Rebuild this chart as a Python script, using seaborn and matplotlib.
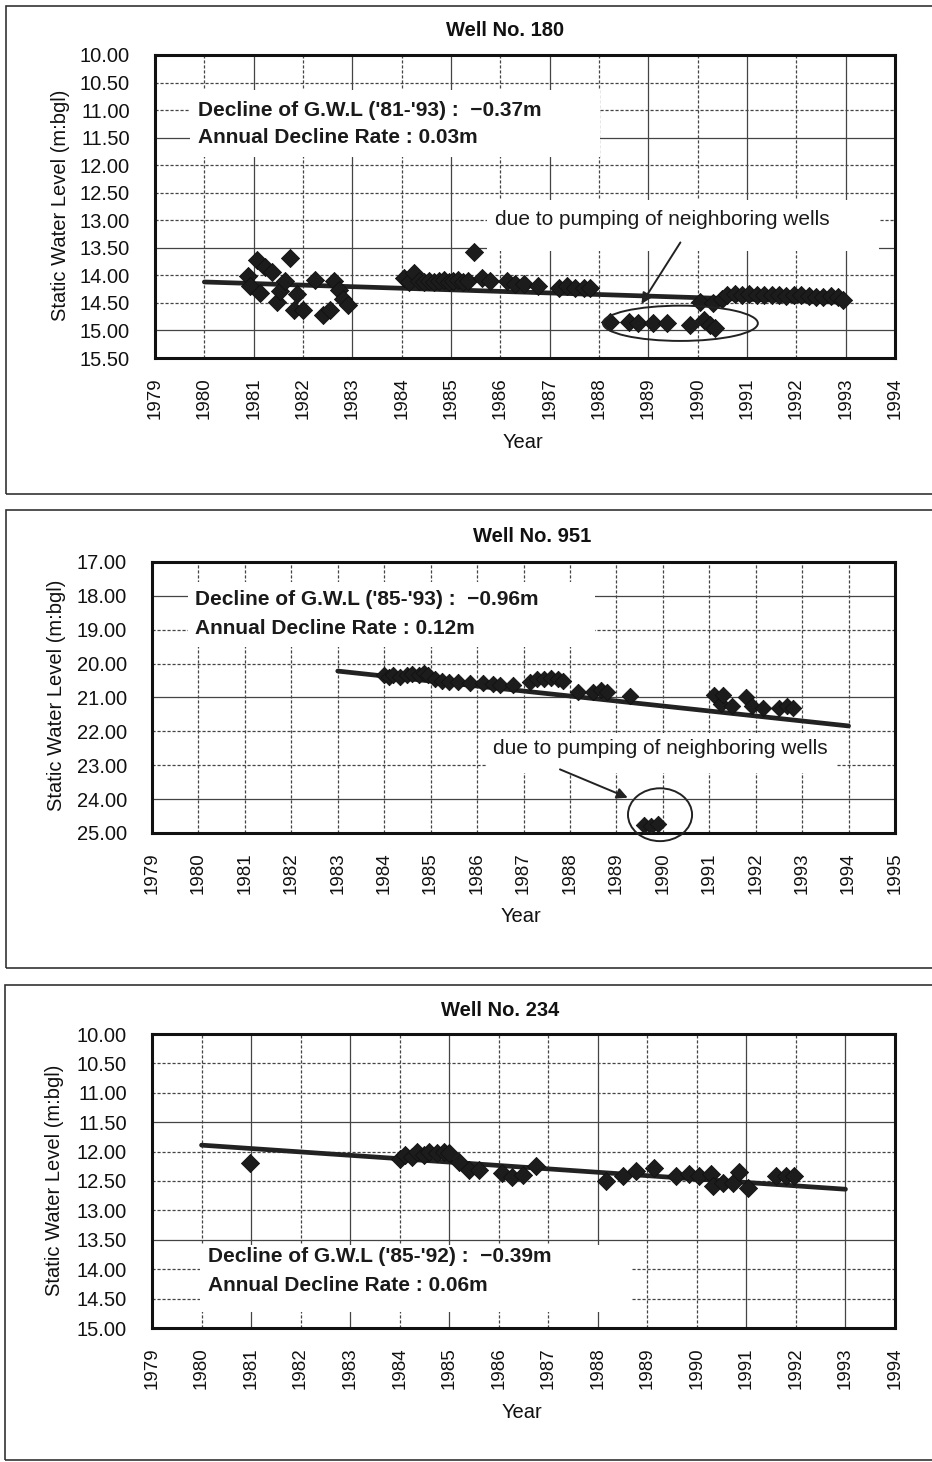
import seaborn as sns
import matplotlib.pyplot as plt
import pandas as pd
import numpy as np
from matplotlib.patches import Rectangle, Ellipse

sns.set_style("white")
plt.rcParams['font.family'] = ['Liberation Sans', 'DejaVu Sans']

# ---- Well No. 180 ----
w180_year = [1980.89, 1980.93, 1981.06, 1981.13, 1981.23, 1981.37, 1981.47, 1981.54, 1981.64, 1981.74,
             1981.81, 1981.87, 1982.01, 1982.25, 1982.41, 1982.55, 1982.62, 1982.72, 1982.82, 1982.92,
             1984.04, 1984.15, 1984.24, 1984.35, 1984.45, 1984.55, 1984.65, 1984.75, 1984.85, 1984.95,
             1985.05, 1985.15, 1985.25, 1985.35, 1985.46, 1985.62, 1985.80, 1986.13, 1986.30, 1986.47,
             1986.77, 1987.18, 1987.35, 1987.52, 1987.69, 1987.82,
             1988.23, 1988.60, 1988.80, 1989.10, 1989.38, 1989.85, 1990.12, 1990.26, 1990.36,
             1990.05, 1990.32, 1990.50, 1990.60, 1990.75, 1990.90, 1991.05, 1991.20, 1991.35, 1991.50,
             1991.65, 1991.80, 1991.95, 1992.10, 1992.25, 1992.40, 1992.55, 1992.70, 1992.85, 1992.95]
w180_depth = [14.02, 14.20, 13.72, 14.32, 13.84, 13.93, 14.48, 14.29, 14.11, 13.69,
              14.63, 14.33, 14.63, 14.08, 14.72, 14.63, 14.11, 14.26, 14.42, 14.54,
              14.05, 14.12, 13.96, 14.10, 14.12, 14.10, 14.12, 14.10, 14.08, 14.12,
              14.10, 14.08, 14.12, 14.10, 13.57, 14.05, 14.11, 14.11, 14.15, 14.15,
              14.20, 14.23, 14.20, 14.23, 14.23, 14.23,
              14.84, 14.84, 14.87, 14.87, 14.87, 14.90, 14.81, 14.90, 14.95,
              14.48, 14.51, 14.42, 14.35, 14.33, 14.35, 14.33, 14.36, 14.35, 14.36,
              14.35, 14.38, 14.36, 14.35, 14.38, 14.40, 14.40, 14.38, 14.40, 14.45]
w180_trend_x = [1980.0, 1993.0]
w180_trend_y = [14.12, 14.49]

# ---- Well No. 951 ----
w951_year = [1984.00, 1984.10, 1984.20, 1984.35, 1984.50, 1984.60, 1984.75, 1984.85, 1984.95,
             1985.10, 1985.25, 1985.40, 1985.60, 1985.84, 1986.12, 1986.35, 1986.50, 1986.78,
             1987.15, 1987.30, 1987.45, 1987.60, 1987.75, 1987.85,
             1988.18, 1988.50, 1988.66, 1988.80, 1989.30,
             1989.60, 1989.75, 1989.90,
             1991.10, 1991.25, 1991.30, 1991.50, 1991.80, 1991.93, 1992.15, 1992.50, 1992.67, 1992.80]
w951_depth = [20.35, 20.40, 20.35, 20.40, 20.35, 20.30, 20.35, 20.28, 20.35,
              20.45, 20.50, 20.55, 20.53, 20.58, 20.58, 20.60, 20.63, 20.63,
              20.55, 20.45, 20.45, 20.42, 20.45, 20.50,
              20.83, 20.83, 20.78, 20.83, 20.97,
              24.75, 24.80, 24.72,
              20.92, 21.20, 20.92, 21.25, 21.00, 21.25, 21.30, 21.30, 21.25, 21.30]
w951_trend_x = [1983.0, 1994.0]
w951_trend_y = [20.22, 21.84]

# ---- Well No. 234 ----
w234_year = [1980.97,
             1984.00, 1984.10, 1984.25, 1984.35, 1984.50, 1984.60, 1984.75, 1984.90, 1985.00,
             1985.20, 1985.40, 1985.60, 1986.07, 1986.27, 1986.48, 1986.75,
             1988.17, 1988.50, 1988.77, 1989.14, 1989.58, 1989.85, 1990.05, 1990.29, 1990.32,
             1990.52, 1990.72, 1990.86, 1991.03, 1991.60, 1991.80, 1991.97]
w234_depth = [12.20,
              12.12, 12.05, 12.10, 12.00, 12.05, 12.00, 12.02, 12.00, 12.02,
              12.17, 12.31, 12.31, 12.37, 12.43, 12.40, 12.24,
              12.50, 12.42, 12.33, 12.28, 12.42, 12.38, 12.41, 12.38, 12.58,
              12.53, 12.53, 12.34, 12.62, 12.42, 12.41, 12.41]
w234_trend_x = [1980.0, 1993.0]
w234_trend_y = [11.89, 12.64]

W, H = 932, 1462
fig = plt.figure(figsize=(W / 100, H / 100), dpi=100)


def fx(px):
    return px / W


def fy(py):
    return 1 - py / H


def panel(box, left, right, top, bottom, years, depths, tx, ty, xlim, ylim, ystep,
          solid_h, solid_v, msize):
    # outer frame of the panel
    fig.patches.append(Rectangle((fx(box[0]), fy(box[2])), 1.2, fy(box[1]) - fy(box[2]),
                                 transform=fig.transFigure, fill=False, lw=1.2,
                                 edgecolor="#333333"))
    ax = fig.add_axes([fx(left), fy(bottom), fx(right) - fx(left), fy(top) - fy(bottom)])
    yt = np.arange(ylim[0], ylim[1] + ystep / 2, ystep)
    for yr in range(xlim[0] + 1, xlim[1]):
        ls = "-" if yr in solid_v else (0, (2.5, 1.5))
        ax.axvline(yr, color="#444444", lw=0.9, ls=ls, zorder=0.5)
    for v in yt[1:-1]:
        ls = "-" if round(v, 2) in solid_h else (0, (2.5, 1.5))
        ax.axhline(v, color="#444444", lw=0.9, ls=ls, zorder=0.5)
    df = pd.DataFrame({"Year": years, "Depth": depths})
    tr = pd.DataFrame({"Year": tx, "Depth": ty})
    sns.lineplot(data=tr, x="Year", y="Depth", ax=ax, color="#222222", lw=3.4, zorder=3)
    sns.scatterplot(data=df, x="Year", y="Depth", ax=ax, marker="D", s=msize,
                    color="#1c1c1c", edgecolor="#111111", linewidth=0.6, zorder=4)
    ax.set_xlim(xlim)
    ax.set_ylim(ylim[1], ylim[0])
    ax.set_xticks(range(xlim[0], xlim[1] + 1))
    ax.set_xticklabels([str(y) for y in range(xlim[0], xlim[1] + 1)], rotation=90)
    ax.set_yticks(yt)
    ax.set_yticklabels([f"{v:.2f}" for v in yt])
    ax.tick_params(axis="both", length=0, labelsize=14.5, colors="#111111")
    ax.tick_params(axis="x", pad=14, labelsize=13.5)
    ax.tick_params(axis="y", pad=18)
    ax.set_xlabel("")
    ax.set_ylabel("")
    for s in ax.spines.values():
        s.set_linewidth(2.2)
        s.set_color("#111111")
    return ax


def white_box(ax, x0, x1, y0, y1):
    ax.add_patch(Rectangle((x0, y0), x1 - x0, y1 - y0, facecolor="white",
                           edgecolor="none", zorder=1))


txt = dict(fontsize=15, fontweight="bold", color="#1a1a1a", va="center", ha="left", zorder=5)
note = dict(fontsize=15, color="#1a1a1a", va="center", ha="left", zorder=5)

# Panel 1
ax1 = panel((6, 6, 494), 155, 895, 55, 358, w180_year, w180_depth, w180_trend_x, w180_trend_y,
            (1979, 1994), (10.0, 15.5), 0.5, [11.5, 13.5, 15.0],
            [1981, 1983, 1985, 1987, 1989, 1991, 1993], 85)
white_box(ax1, 1979.71, 1988.03, 10.63, 11.85)
ax1.text(1979.87, 11.0, "Decline of G.W.L ('81-'93) :  \u22120.37m", **txt)
ax1.text(1979.87, 11.49, "Annual Decline Rate : 0.03m", **txt)
white_box(ax1, 1985.73, 1993.67, 12.63, 13.56)
ax1.text(1985.9, 12.98, "due to pumping of neighboring wells", **note)
ax1.annotate("", xy=(1988.83, 14.56), xytext=(1989.68, 13.36),
             arrowprops=dict(arrowstyle="-|>", color="#222222", lw=1.4, mutation_scale=16),
             zorder=5)
ax1.add_patch(Ellipse((1989.65, 14.87), 3.14, 0.64, fill=False, lw=1.4,
                      edgecolor="#222222", zorder=5))

# Panel 2
ax2 = panel((6, 510, 968), 152, 895, 562, 833, w951_year, w951_depth, w951_trend_x, w951_trend_y,
            (1979, 1995), (17.0, 25.0), 1.0, [18.0, 21.0, 24.0], [], 70)
white_box(ax2, 1979.78, 1988.55, 17.59, 19.51)
ax2.text(1979.93, 18.12, "Decline of G.W.L ('85-'93) :  \u22120.96m", **txt)
ax2.text(1979.93, 18.95, "Annual Decline Rate : 0.12m", **txt)
white_box(ax2, 1986.22, 1993.72, 22.04, 23.22)
ax2.text(1986.35, 22.52, "due to pumping of neighboring wells", **note)
ax2.annotate("", xy=(1989.3, 23.99), xytext=(1987.73, 23.09),
             arrowprops=dict(arrowstyle="-|>", color="#222222", lw=1.4, mutation_scale=16),
             zorder=5)
ax2.add_patch(Ellipse((1989.94, 24.46), 1.38, 1.56, fill=False, lw=1.4,
                      edgecolor="#222222", zorder=5, clip_on=False))

# Panel 3
ax3 = panel((5, 985, 1460), 152, 895, 1034, 1328, w234_year, w234_depth, w234_trend_x, w234_trend_y,
            (1979, 1994), (10.0, 15.0), 0.5, [11.5, 13.5],
            [1981, 1983, 1985, 1988, 1991, 1993], 85)
white_box(ax3, 1979.97, 1988.7, 13.59, 14.73)
ax3.text(1980.13, 13.78, "Decline of G.W.L ('85-'92) :  \u22120.39m", **txt)
ax3.text(1980.13, 14.27, "Annual Decline Rate : 0.06m", **txt)

# titles and axis labels
lab = dict(fontsize=14.5, color="#111111", ha="center", va="center")
fig.text(fx(505), fy(31), "Well No. 180", fontweight="bold", **lab)
fig.text(fx(532), fy(537), "Well No. 951", fontweight="bold", **lab)
fig.text(fx(500), fy(1010), "Well No. 234", fontweight="bold", **lab)
fig.text(fx(523), fy(443), "Year", **lab)
fig.text(fx(521), fy(916), "Year", **lab)
fig.text(fx(522), fy(1412), "Year", **lab)
fig.text(fx(60), fy(205), "Static Water Level (m:bgl)", rotation=90, **lab)
fig.text(fx(57), fy(695), "Static Water Level (m:bgl)", rotation=90, **lab)
fig.text(fx(55), fy(1180), "Static Water Level (m:bgl)", rotation=90, **lab)

plt.savefig("out.png", dpi=100)
